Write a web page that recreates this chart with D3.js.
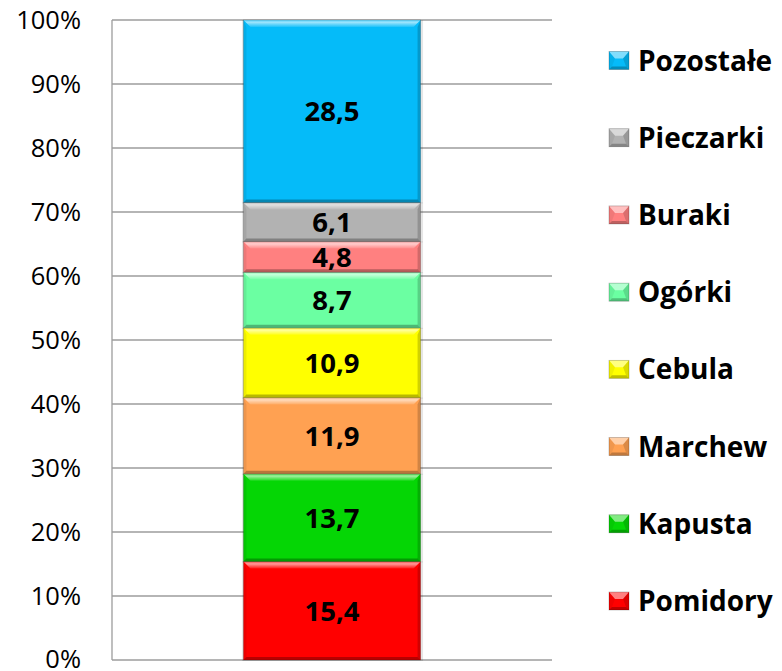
<!DOCTYPE html>
<html>
<head>
<meta charset="utf-8">
<script src="https://cdn.jsdelivr.net/npm/d3@7"></script>
<style>
  html, body { margin: 0; padding: 0; background: #fff; }
  svg { display: block; }
</style>
</head>
<body>
<svg id="chart" width="782" height="671"></svg>
<script>
// ---- data ----
const categories = ["Pomidory", "Kapusta", "Marchew", "Cebula", "Ogórki", "Buraki", "Pieczarki", "Pozostałe"];
const values = [15.4, 13.7, 11.9, 10.9, 8.7, 4.8, 6.1, 28.5];
const labels = ["15,4", "13,7", "11,9", "10,9", "8,7", "4,8", "6,1", "28,5"];
const colors = ["#FF0000", "#05D605", "#FFA152", "#FFFF00", "#6BFFA2", "#FF8080", "#B2B2B2", "#05BBF9"];
const yTicks = [0, 10, 20, 30, 40, 50, 60, 70, 80, 90, 100];
const xCategory = ["Warzywa"];

const svg = d3.select("#chart");
const plot = { left: 112, right: 552, top: 20, bottom: 660 };
const FONT = "'Open Sans', 'Noto Sans', sans-serif";

const defs = svg.append("defs");
const topGrad = defs.append("linearGradient").attr("id", "topBevel").attr("x1", 0).attr("y1", 0).attr("x2", 0).attr("y2", 1);
topGrad.append("stop").attr("offset", "0%").attr("stop-color", "#fff").attr("stop-opacity", 0.35);
topGrad.append("stop").attr("offset", "35%").attr("stop-color", "#fff").attr("stop-opacity", 0.6);
topGrad.append("stop").attr("offset", "100%").attr("stop-color", "#fff").attr("stop-opacity", 0.1);

const y = d3.scaleLinear().domain([0, 100]).range([plot.bottom, plot.top]);
const x = d3.scaleBand().domain(xCategory).range([plot.left, plot.right]).padding(0.426);

// gridlines
svg.append("g")
  .selectAll("line")
  .data(yTicks)
  .join("line")
  .attr("x1", plot.left).attr("x2", plot.right)
  .attr("y1", d => y(d)).attr("y2", d => y(d))
  .attr("stroke", "#9c9c9c").attr("stroke-width", 1.3);

// y axis line
svg.append("line")
  .attr("x1", plot.left).attr("x2", plot.left)
  .attr("y1", y(100)).attr("y2", y(0))
  .attr("stroke", "#9c9c9c").attr("stroke-width", 1.3);

// y axis labels
const yAxis = d3.axisLeft(y).tickValues(yTicks).tickFormat(d => d + "%").tickSize(0).tickPadding(31);
const gy = svg.append("g").attr("transform", `translate(${plot.left},0)`).call(yAxis);
gy.select(".domain").remove();
gy.selectAll("text")
  .attr("font-family", FONT)
  .attr("font-size", 25.5)
  .attr("dy", d => d === 0 ? "0.28em" : "0.34em")
  .attr("fill", "#000");

// stacked segments
const stackData = [Object.fromEntries(categories.map((c, i) => [c, values[i]]))];
const series = d3.stack().keys(categories)(stackData);

const bx0 = x(xCategory[0]);
const bw = x.bandwidth();
const b = 7;

const segs = svg.append("g").selectAll("g.seg")
  .data(series)
  .join("g").attr("class", "seg");

segs.each(function (s, i) {
  const g = d3.select(this);
  const y0 = y(s[0][1]), y1 = y(s[0][0]);
  const x0 = bx0, x1 = bx0 + bw;
  // soft shadow
  g.append("rect").attr("x", x0 - 1.5).attr("y", y0).attr("width", bw + 4).attr("height", y1 - y0 + 1)
    .attr("fill", "rgba(0,0,0,0.10)");
  g.append("rect").attr("x", x0).attr("y", y0).attr("width", bw).attr("height", y1 - y0)
    .attr("fill", colors[i]);
  const poly = (pts, fill) => g.append("polygon").attr("points", pts.map(p => p.join(",")).join(" ")).attr("fill", fill);
  poly([[x0, y0], [x1, y0], [x1 - b, y0 + b], [x0 + b, y0 + b]], "url(#topBevel)");
  poly([[x0, y1], [x1, y1], [x1 - 3, y1 - 3], [x0 + 3, y1 - 3]], "rgba(0,0,0,0.28)");
  poly([[x0, y0], [x0 + 3, y0 + b], [x0 + 3, y1 - 3], [x0, y1]], "rgba(0,0,0,0.07)");
  poly([[x1, y0], [x1 - 3, y0 + b], [x1 - 3, y1 - 3], [x1, y1]], "rgba(0,0,0,0.18)");
  g.append("rect").attr("x", x0).attr("y", y0).attr("width", bw).attr("height", y1 - y0)
    .attr("fill", "none").attr("stroke", "rgba(0,0,0,0.22)").attr("stroke-width", 0.8);
  g.append("text")
    .attr("x", x0 + bw / 2).attr("y", (y0 + y1) / 2)
    .attr("dy", "0.36em")
    .attr("text-anchor", "middle")
    .attr("font-family", FONT).attr("font-weight", "bold")
    .attr("font-size", 27.5).attr("fill", "#000")
    .text(labels[i]);
});

// legend (top-down reversed order)
const legendOrder = categories.slice().reverse();
const ly = d3.scalePoint().domain(legendOrder).range([60.5, 601]);
const lg = svg.append("g").selectAll("g.leg").data(legendOrder).join("g").attr("class", "leg")
  .attr("transform", d => `translate(609,${ly(d)})`);
lg.each(function (d) {
  const g = d3.select(this);
  const c = colors[categories.indexOf(d)];
  const w = 20, h = 18;
  g.append("rect").attr("x", 0).attr("y", -h / 2).attr("width", w).attr("height", h).attr("fill", c);
  const poly = (pts, fill) => g.append("polygon").attr("points", pts.map(p => p.join(",")).join(" ")).attr("fill", fill);
  const t = -h / 2, bt = h / 2;
  poly([[0, t], [w, t], [w - 6, t + 7], [6, t + 7]], "rgba(255,255,255,0.5)");
  poly([[0, bt], [w, bt], [w - 3, bt - 3], [3, bt - 3]], "rgba(0,0,0,0.25)");
  poly([[0, t], [6, t + 7], [3, bt - 3], [0, bt]], "rgba(0,0,0,0.06)");
  poly([[w, t], [w - 6, t + 7], [w - 3, bt - 3], [w, bt]], "rgba(0,0,0,0.14)");
  g.append("rect").attr("x", 0).attr("y", -h / 2).attr("width", w).attr("height", h)
    .attr("fill", "none").attr("stroke", "rgba(0,0,0,0.25)").attr("stroke-width", 0.8);
  g.append("text").attr("x", 29).attr("y", 0)
    .attr("dy", "0.36em")
    .attr("font-family", FONT).attr("font-weight", "bold")
    .attr("font-size", 28).attr("fill", "#000")
    .text(d);
});
</script>
</body>
</html>
